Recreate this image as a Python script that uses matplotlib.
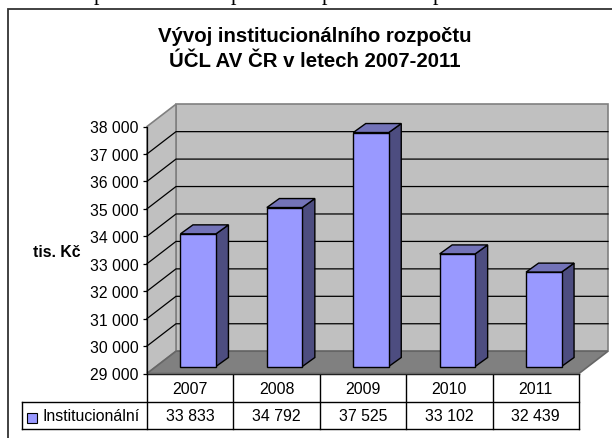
import matplotlib
matplotlib.use("Agg")
import matplotlib.pyplot as plt
from matplotlib.patches import Polygon, Rectangle

years = ["2007", "2008", "2009", "2010", "2011"]
values = [33833, 34792, 37525, 33102, 32439]
value_labels = ["33 833", "34 792", "37 525", "33 102", "32 439"]
ticks = [29000, 30000, 31000, 32000, 33000, 34000, 35000, 36000, 37000, 38000]
tick_labels = ["29 000", "30 000", "31 000", "32 000", "33 000", "34 000", "35 000", "36 000", "37 000", "38 000"]
series_name = "Institucionální"
title = "Vývoj institucionálního rozpočtu\nÚČL AV ČR v letech 2007-2011"
y_title = "tis. Kč"

W, H = 612, 439
plt.rcParams["font.family"] = ["Liberation Sans", "DejaVu Sans"]

fig = plt.figure(figsize=(W / 100, H / 100), dpi=100)

# page background + chart frame, in pixels
bg = fig.add_axes([0, 0, 1, 1])
bg.set_xlim(0, W)
bg.set_ylim(H, 0)
bg.axis("off")
bg.add_patch(Rectangle((8, 10), 640, 460, fc="white", ec="#333333", lw=1.3))
# descenders of the body text line cut off above the chart
for x in [99, 236, 327, 438]:
    bg.text(x, 0, "p", family="Liberation Serif", fontsize=16, ha="center", va="baseline", color="black")

bg.text(315, 49, title, fontsize=14.7, fontweight="bold", ha="center", va="center", linespacing=1.38)
bg.text(33, 253, y_title, fontsize=11.4, fontweight="bold", ha="left", va="center")

# front plane of the 3d box
left, right, bottom, top = 147, 579, 374.5, 127.5
ax = fig.add_axes([left / W, 1 - bottom / H, (right - left) / W, (bottom - top) / H])
ax.set_xlim(0, len(years))
ax.set_ylim(ticks[0], ticks[-1])
ax.patch.set_alpha(0)
for s in ax.spines.values():
    s.set_visible(False)

px_x = len(years) / (right - left)
px_y = (ticks[-1] - ticks[0]) / (bottom - top)
dx, dy = 29 * px_x, 22.3 * px_y
y0, y1 = ticks[0], ticks[-1]

ax.add_patch(Polygon([(dx, y0 + dy), (5 + dx, y0 + dy), (5 + dx, y1 + dy), (dx, y1 + dy)],
                     fc="#c0c0c0", ec="#808080", lw=1.2, clip_on=False, zorder=1))
ax.add_patch(Polygon([(0, y0), (dx, y0 + dy), (dx, y1 + dy), (0, y1)],
                     fc="#c0c0c0", ec="#808080", lw=1.2, clip_on=False, zorder=1))
ax.add_patch(Polygon([(0, y0), (5, y0), (5 + dx, y0 + dy), (dx, y0 + dy)],
                     fc="#808080", ec="#666666", lw=1.2, clip_on=False, zorder=2))

# gridlines on side + back wall
for t in ticks[1:-1]:
    ax.plot([0, dx, 5 + dx], [t, t + dy, t + dy], color="black", lw=0.9, clip_on=False, zorder=1.5)

# bars
bar_w = 35.5 * px_x
off_x = 8 * px_x
off_y = 7 * px_y
depth_x = 12.5 * px_x
depth_y = 9 * px_y
for i, v in enumerate(values):
    x0 = i + 0.5 - bar_w / 2 + off_x
    x1 = x0 + bar_w
    b = y0 + off_y
    t = v + off_y
    ax.add_patch(Polygon([(x1, b), (x1 + depth_x, b + depth_y), (x1 + depth_x, t + depth_y), (x1, t)],
                         fc="#4d4d80", ec="black", lw=1, clip_on=False, zorder=3))
    ax.add_patch(Polygon([(x0, t), (x1, t), (x1 + depth_x, t + depth_y), (x0 + depth_x, t + depth_y)],
                         fc="#7373b8", ec="black", lw=1, clip_on=False, zorder=3))
    ax.add_patch(Polygon([(x0, b), (x1, b), (x1, t), (x0, t)],
                         fc="#9999ff", ec="black", lw=1, clip_on=False, zorder=4))

ax.set_xticks([])
ax.set_yticks(ticks)
ax.set_yticklabels(tick_labels, fontsize=11.3)
ax.tick_params(axis="y", length=3, width=0.9, color="black", pad=3)
ax.spines["left"].set_visible(True)
ax.spines["left"].set_linewidth(0.9)

# data table under the plot
row0, row1, row2 = 375, 403, 430
legend_left = 22
col_w = (right - left) / len(years)
bg.plot([left, right], [row0, row0], color="black", lw=1)
bg.plot([legend_left, right], [row1, row1], color="black", lw=1)
bg.plot([legend_left, right], [row2, row2], color="black", lw=1)
bg.plot([legend_left, legend_left], [row1, row2], color="black", lw=1)
for i in range(len(years) + 1):
    bg.plot([left + i * col_w] * 2, [row0, row2], color="black", lw=1)
for i, (yr, lab) in enumerate(zip(years, value_labels)):
    cx = left + (i + 0.5) * col_w
    bg.text(cx, (row0 + row1) / 2 + 0.5, yr, fontsize=11.4, ha="center", va="center")
    bg.text(cx, (row1 + row2) / 2 + 0.5, lab, fontsize=11.4, ha="center", va="center")
bg.add_patch(Rectangle((27, 414), 10, 10, fc="#9999ff", ec="black", lw=0.8))
bg.text(43, (row1 + row2) / 2 + 0.5, series_name, fontsize=11.4, ha="left", va="center")

fig.savefig("out.png", dpi=100)
